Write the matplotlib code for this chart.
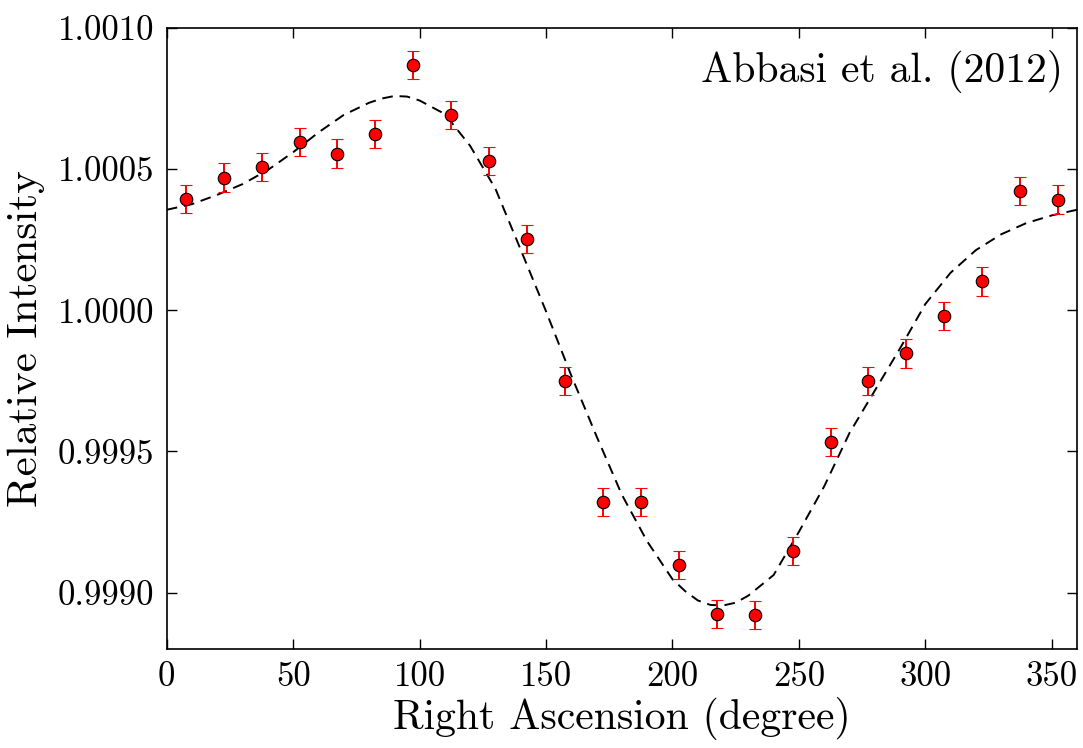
import matplotlib
matplotlib.use('Agg')
from matplotlib import pyplot as plt
from matplotlib.ticker import FormatStrFormatter

plt.rcParams['font.family'] = 'serif'
plt.rcParams['font.serif'] = ['cmr10', 'DejaVu Serif']
plt.rcParams['mathtext.fontset'] = 'cm'
plt.rcParams['axes.unicode_minus'] = False

# binned data (15 degree bins)
ra = [7.5, 22.5, 37.5, 52.5, 67.5, 82.5, 97.5, 112.5, 127.5, 142.5, 157.5, 172.5,
      187.5, 202.5, 217.5, 232.5, 247.5, 262.5, 277.5, 292.5, 307.5, 322.5, 337.5, 352.5]
intensity = [1.000393, 1.000470, 1.000508, 1.000595, 1.000555, 1.000625, 1.000868, 1.000692,
             1.000528, 1.000253, 0.999749, 0.999322, 0.999322, 0.999098, 0.998924, 0.998921,
             0.999146, 0.999533, 0.999749, 0.999847, 0.999980, 1.000102, 1.000422, 1.000392]
err = [0.00005] * 24

# fitted curve
fit_ra = [0, 10, 20, 30, 40, 50, 60, 70, 80, 85, 90, 95, 100, 110, 120, 130, 140, 150, 160,
          170, 180, 190, 200, 205, 210, 215, 220, 225, 230, 240, 250, 260, 270, 280, 290,
          300, 310, 320, 330, 340, 350, 360]
fit_val = [1.000356, 1.000376, 1.000409, 1.000447, 1.000497, 1.000560, 1.000630, 1.000692,
           1.000735, 1.000750, 1.000759, 1.000757, 1.000743, 1.000695, 1.000582, 1.000430,
           1.000214, 0.999996, 0.999768, 0.999553, 0.999346, 0.999181, 0.999047, 0.999005,
           0.998972, 0.998956, 0.998954, 0.998964, 0.998989, 0.999062, 0.999215, 0.999376,
           0.999565, 0.999715, 0.999865, 1.000022, 1.000133, 1.000213, 1.000269, 1.000309,
           1.000336, 1.000356]

fig = plt.figure(figsize=(10.83, 7.48), dpi=100)
ax = fig.add_axes([0.154, 0.1324, 0.8405, 0.8302])

ax.plot(fit_ra, fit_val, color='black', linestyle='--', dashes=(5.5, 3.5), linewidth=1.4)
ax.errorbar(ra, intensity, yerr=err, fmt='o', color='red', markerfacecolor='red',
            markeredgecolor='black', markeredgewidth=0.8, markersize=9,
            ecolor='red', elinewidth=1.4, capsize=4, capthick=1.2)

ax.set_xlim(0, 360)
ax.set_ylim(0.9988, 1.0010)
ax.set_xticks([0, 50, 100, 150, 200, 250, 300, 350])
ax.set_yticks([0.9990, 0.9995, 1.0000, 1.0005, 1.0010])
ax.yaxis.set_major_formatter(FormatStrFormatter('%.4f'))
ax.tick_params(direction='in', top=True, right=True, length=7, width=1, labelsize=25, pad=9)
for s in ax.spines.values():
    s.set_linewidth(1.2)

ax.set_xlabel('Right Ascension (degree)', fontsize=30, labelpad=3)
ax.set_ylabel('Relative Intensity', fontsize=31, labelpad=9)
ax.text(0.985, 0.965, 'Abbasi et al. (2012)', transform=ax.transAxes, ha='right', va='top',
        fontsize=30)

plt.savefig('out.png', dpi=100)
